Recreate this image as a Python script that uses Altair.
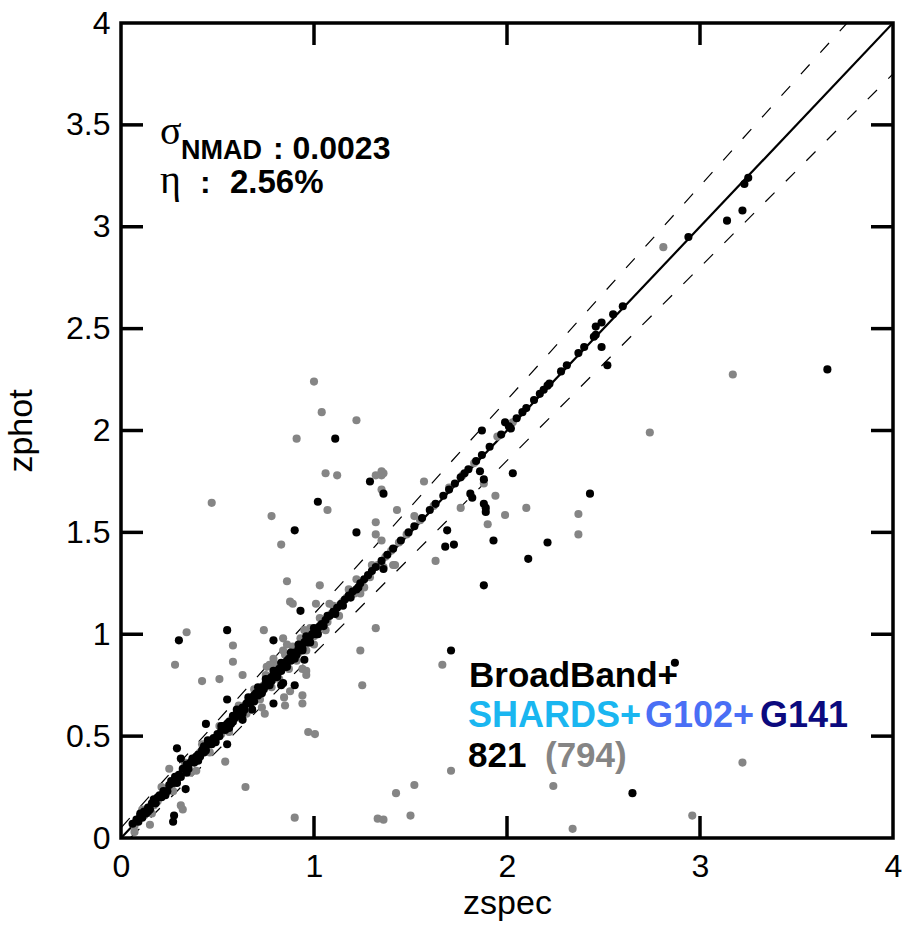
import altair as alt
import pandas as pd

# ---------------- data ----------------
black_outliers = [
    (1.11, 1.96), (1.29, 1.75), (1.36, 1.69), (1.02, 1.65), (0.90, 1.51), (1.22, 1.50),
    (0.93, 1.115), (0.55, 1.02), (0.30, 0.97), (0.79, 0.97), (0.55, 0.68), (0.95, 0.875),
    (0.84, 0.76), (0.90, 0.75), (0.83, 0.75), (0.79, 0.66), (0.68, 0.63), (0.63, 0.58),
    (0.44, 0.56), (0.55, 0.46), (0.29, 0.44), (0.31, 0.39), (0.335, 0.24), (0.275, 0.11),
    (0.27, 0.08), (1.71, 0.92), (2.87, 0.86), (2.65, 0.22), (3.66, 2.30), (3.23, 3.21),
    (3.22, 3.08), (3.14, 3.03), (2.94, 2.95), (2.49, 2.41), (2.52, 2.32), (2.43, 1.69),
    (2.21, 1.45), (2.11, 1.37), (2.03, 1.79), (1.88, 1.64), (1.89, 1.62), (1.89, 1.60),
    (1.93, 1.46), (1.88, 1.24), (1.86, 1.80), (1.88, 1.76), (1.81, 1.69), (1.82, 1.67),
    (1.87, 2.00), (1.69, 1.51), (1.68, 1.43), (1.725, 1.44), (1.36, 1.32), (1.99, 2.04),
]
black_line = [
    (0.06, 0.07), (0.08, 0.09), (0.09, 0.08), (0.10, 0.11), (0.11, 0.10), (0.12, 0.13),
    (0.13, 0.12), (0.14, 0.15), (0.15, 0.14), (0.16, 0.17), (0.18, 0.17), (0.19, 0.20),
    (0.20, 0.21), (0.21, 0.20), (0.22, 0.23), (0.24, 0.23), (0.25, 0.26), (0.27, 0.27),
    (0.28, 0.30), (0.30, 0.31), (0.31, 0.30), (0.33, 0.34), (0.34, 0.36), (0.35, 0.34),
    (0.36, 0.37), (0.37, 0.38), (0.38, 0.37), (0.39, 0.40), (0.40, 0.41), (0.41, 0.40),
    (0.42, 0.43), (0.43, 0.45), (0.44, 0.43), (0.45, 0.46), (0.46, 0.47), (0.47, 0.46),
    (0.48, 0.49), (0.50, 0.51), (0.51, 0.50), (0.52, 0.53), (0.53, 0.55), (0.54, 0.53),
    (0.55, 0.56), (0.56, 0.57), (0.57, 0.56), (0.58, 0.60), (0.59, 0.59), (0.60, 0.61),
    (0.61, 0.60), (0.62, 0.63), (0.63, 0.64), (0.64, 0.63), (0.65, 0.66), (0.66, 0.67),
    (0.67, 0.66), (0.68, 0.69), (0.69, 0.70), (0.70, 0.71), (0.71, 0.70), (0.72, 0.73),
    (0.73, 0.74), (0.74, 0.73), (0.75, 0.76), (0.76, 0.77), (0.76, 0.75), (0.77, 0.78),
    (0.78, 0.79), (0.78, 0.77), (0.79, 0.80), (0.80, 0.81), (0.80, 0.79), (0.81, 0.82),
    (0.82, 0.83), (0.83, 0.82), (0.84, 0.85), (0.85, 0.86), (0.85, 0.84), (0.86, 0.87),
    (0.87, 0.88), (0.88, 0.87), (0.89, 0.90), (0.90, 0.91), (0.91, 0.90), (0.92, 0.93),
    (0.93, 0.94), (0.94, 0.93), (0.95, 0.96), (0.96, 0.97), (0.97, 0.96), (0.98, 0.99),
    (0.99, 1.00), (1.00, 1.01), (1.01, 1.00), (1.02, 1.03), (1.03, 1.04), (1.04, 1.05),
    (1.06, 1.07), (1.08, 1.09), (1.10, 1.11), (1.12, 1.13), (1.14, 1.15), (1.16, 1.17),
    (1.18, 1.19), (1.20, 1.21), (1.22, 1.22), (1.24, 1.25), (1.26, 1.27), (1.28, 1.29),
    (1.30, 1.31), (1.32, 1.33), (1.35, 1.36), (1.38, 1.39), (1.41, 1.42), (1.45, 1.46),
    (1.49, 1.50), (1.52, 1.53), (1.56, 1.57), (1.60, 1.61), (1.63, 1.64), (1.67, 1.68),
    (1.70, 1.71), (1.73, 1.74), (1.76, 1.77), (1.78, 1.79), (1.80, 1.81), (1.84, 1.85),
    (1.87, 1.88), (1.91, 1.92), (1.97, 1.98), (2.01, 2.02), (2.02, 2.01), (2.05, 2.06),
    (2.08, 2.09), (2.10, 2.11), (2.14, 2.15), (2.17, 2.18), (2.19, 2.20), (2.21, 2.22),
    (2.22, 2.23), (2.28, 2.29), (2.31, 2.32), (2.37, 2.38), (2.40, 2.41), (2.45, 2.46),
    (2.46, 2.47), (2.46, 2.51), (2.49, 2.53), (2.55, 2.57), (2.60, 2.61), (3.25, 3.24),
]
black_band = [
    (0.10, 0.12), (0.14, 0.13), (0.17, 0.19), (0.23, 0.21), (0.26, 0.28), (0.29, 0.27),
    (0.32, 0.34), (0.34, 0.32), (0.37, 0.39), (0.40, 0.38), (0.43, 0.42), (0.45, 0.48),
    (0.49, 0.47), (0.52, 0.55), (0.56, 0.54), (0.58, 0.57), (0.60, 0.63), (0.63, 0.61),
    (0.66, 0.69), (0.69, 0.67), (0.71, 0.74), (0.73, 0.71), (0.75, 0.78), (0.77, 0.75),
    (0.79, 0.82), (0.81, 0.79), (0.83, 0.86), (0.86, 0.84), (0.88, 0.91), (0.90, 0.88),
    (0.92, 0.95), (0.94, 0.92), (0.96, 0.99), (0.98, 0.96), (1.00, 1.03), (1.02, 1.00),
    (1.05, 1.04), (1.07, 1.09), (1.11, 1.10), (1.15, 1.14), (1.19, 1.18), (1.23, 1.23),
]
gray_outliers = [
    (1.00, 2.24), (1.04, 2.09), (1.22, 2.05), (0.91, 1.96), (1.06, 1.79), (1.12, 1.78),
    (1.32, 1.78), (1.35, 1.80), (1.35, 1.78), (1.35, 1.71), (1.07, 1.61), (0.47, 1.645),
    (0.78, 1.58), (0.83, 1.44), (1.32, 1.55), (1.32, 1.49), (1.35, 1.46), (1.43, 1.61),
    (1.41, 1.34), (0.86, 1.26), (1.03, 1.24), (1.22, 1.27), (0.876, 1.16), (0.89, 1.15),
    (1.01, 1.15), (1.08, 1.15), (1.32, 1.03), (0.34, 1.01), (0.74, 1.02), (0.84, 0.98),
    (0.58, 0.945), (0.28, 0.85), (0.58, 0.865), (1.24, 0.92), (1.25, 0.75), (0.42, 0.77),
    (0.51, 0.78), (0.63, 0.80), (0.94, 0.83), (0.96, 0.82), (0.96, 0.80), (0.845, 0.69),
    (0.85, 0.65), (0.876, 0.72), (0.94, 0.70), (0.94, 0.66), (0.73, 0.64), (0.745, 0.61),
    (0.97, 0.52), (1.005, 0.51), (0.54, 0.375), (0.39, 0.33), (0.25, 0.34), (0.645, 0.25),
    (0.31, 0.16), (0.32, 0.14), (0.15, 0.065), (0.90, 0.10), (0.07, 0.03), (1.33, 0.095),
    (1.665, 0.85), (1.71, 0.33), (1.52, 0.26), (1.425, 0.22), (1.36, 0.09), (1.50, 0.11),
    (2.24, 0.255), (2.34, 0.045), (2.96, 0.11), (3.22, 0.37), (2.74, 1.99), (3.17, 2.275),
    (2.81, 2.90), (2.37, 1.59), (2.37, 1.49), (2.10, 1.62), (1.94, 1.68), (1.99, 1.585),
    (1.90, 1.54), (1.88, 1.74), (1.63, 1.36), (1.42, 1.34), (1.76, 1.62), (1.57, 1.75),
    (1.52, 1.58), (1.36, 1.79), (1.26, 1.23), (0.755, 0.84), (0.77, 0.85),
]
gray_line = [
    (0.07, 0.06), (0.12, 0.11), (0.17, 0.16), (0.19, 0.18), (0.23, 0.24), (0.26, 0.25),
    (0.29, 0.28), (0.32, 0.33), (0.35, 0.36), (0.38, 0.39), (0.41, 0.42), (0.44, 0.45),
    (0.47, 0.48), (0.49, 0.48), (0.52, 0.51), (0.55, 0.54), (0.57, 0.58), (0.60, 0.59),
    (0.62, 0.61), (0.64, 0.65), (0.67, 0.68), (0.70, 0.69), (0.72, 0.71), (0.74, 0.75),
    (0.77, 0.76), (0.79, 0.78), (0.81, 0.80), (0.83, 0.84), (0.86, 0.85), (0.88, 0.89),
    (0.90, 0.89), (0.92, 0.91), (0.95, 0.94), (0.97, 0.98), (1.00, 0.99), (1.02, 1.01),
    (1.05, 1.06), (1.07, 1.06), (1.09, 1.10), (1.11, 1.12), (1.13, 1.14), (1.15, 1.16),
    (1.17, 1.18), (1.21, 1.20), (1.25, 1.24), (1.29, 1.28), (1.33, 1.34), (1.37, 1.38),
    (1.40, 1.41), (1.44, 1.45), (1.48, 1.49), (1.55, 1.56), (1.62, 1.63), (1.70, 1.72),
    (1.77, 1.78), (1.83, 1.84), (1.95, 1.97), (2.03, 2.04),
]
gray_band = [
    (0.11, 0.14), (0.16, 0.12), (0.21, 0.25), (0.27, 0.23), (0.33, 0.37), (0.36, 0.32),
    (0.42, 0.46), (0.46, 0.42), (0.51, 0.55), (0.56, 0.52), (0.61, 0.65), (0.65, 0.61),
    (0.69, 0.73), (0.72, 0.68), (0.75, 0.80), (0.78, 0.74), (0.80, 0.85), (0.82, 0.78),
    (0.85, 0.90), (0.87, 0.83), (0.89, 0.94), (0.91, 0.87), (0.93, 0.98), (0.96, 0.92),
    (0.98, 1.03), (1.00, 0.95), (1.03, 1.08), (1.06, 1.02), (1.10, 1.14), (1.13, 1.09),
    (1.18, 1.22), (1.24, 1.20), (1.30, 1.34), (1.36, 1.33), (0.84, 0.92), (0.86, 0.95),
    (0.95, 1.02), (0.79, 0.88),
]

x_tick_values = [0, 1, 2, 3, 4]
y_tick_values = [0, 0.5, 1, 1.5, 2, 2.5, 3, 3.5, 4]
inner_x_ticks = [1, 2, 3]
inner_y_ticks = [0.5, 1, 1.5, 2, 2.5, 3, 3.5]

one_to_one = [(0, 0), (4, 4)]
upper_band = [(0, 0.05), (3.7619, 4.0)]
lower_band = [(0.0476, 0.0), (4.0, 3.75)]

FONT = "Liberation Sans"
W, H = 772, 815

def frame(pairs):
    return pd.DataFrame(pairs, columns=["zspec", "zphot"])

xs = alt.Scale(domain=[0, 4], nice=False, zero=False)
ys = alt.Scale(domain=[0, 4], nice=False, zero=False)

x_axis = alt.Axis(values=x_tick_values, format="~g", ticks=False, tickSize=0, domain=False,
                  grid=False, labelFontSize=32, labelFont=FONT, labelPadding=13,
                  labelFlush=False, labelColor="black", title="zspec", titleFont=FONT,
                  titleFontSize=34, titleFontWeight="normal", titleColor="black", titlePadding=4)
y_axis = alt.Axis(values=y_tick_values, format="~g", ticks=False, tickSize=0, domain=False,
                  grid=False, labelFontSize=32, labelFont=FONT, labelPadding=11,
                  labelFlush=False, labelColor="black", title="zphot", titleFont=FONT,
                  titleFontSize=34, titleFontWeight="normal", titleColor="black", titlePadding=27)

def xenc():
    return alt.X("zspec:Q", scale=xs, axis=x_axis)

def yenc():
    return alt.Y("zphot:Q", scale=ys, axis=y_axis)

base_line = alt.Chart(frame(one_to_one)).mark_line(color="black", strokeWidth=2.2, clip=True).encode(
    x=xenc(), y=yenc())
up_line = alt.Chart(frame(upper_band)).mark_line(color="black", strokeWidth=1.2, strokeDash=[13, 16], clip=True).encode(
    x=xenc(), y=yenc())
lo_line = alt.Chart(frame(lower_band)).mark_line(color="black", strokeWidth=1.2, strokeDash=[13, 16], clip=True).encode(
    x=xenc(), y=yenc())

gray_pts = alt.Chart(frame(gray_line + gray_band + gray_outliers)).mark_circle(
    size=66, color="#858585", opacity=1, clip=True).encode(x=xenc(), y=yenc())
black_pts = alt.Chart(frame(black_line + black_band + black_outliers)).mark_circle(
    size=66, color="black", opacity=1, clip=True).encode(x=xenc(), y=yenc())

TL = 22
tick_w = 3.5
yt = pd.DataFrame({"zphot": inner_y_ticks})
xt = pd.DataFrame({"zspec": inner_x_ticks})
left_ticks = alt.Chart(yt).mark_rule(color="black", strokeWidth=tick_w).encode(
    y=yenc(), x=alt.value(0), x2=alt.value(TL))
right_ticks = alt.Chart(yt).mark_rule(color="black", strokeWidth=tick_w).encode(
    y=yenc(), x=alt.value(W - TL), x2=alt.value(W))
bottom_ticks = alt.Chart(xt).mark_rule(color="black", strokeWidth=tick_w).encode(
    x=xenc(), y=alt.value(H - TL), y2=alt.value(H))
top_ticks = alt.Chart(xt).mark_rule(color="black", strokeWidth=tick_w).encode(
    x=xenc(), y=alt.value(0), y2=alt.value(TL))

def label(txt, px, py, size, color="black", weight="bold", font=FONT):
    return alt.Chart(pd.DataFrame({"t": [txt]})).mark_text(
        align="left", baseline="alphabetic", fontSize=size, fontWeight=weight,
        font=font, color=color).encode(text="t:N", x=alt.value(px), y=alt.value(py))

texts = [
    label("σ", 39, 121, 40, weight="normal", font="Liberation Serif"),
    label("NMAD", 60, 136, 27),
    label(": 0.0023", 152, 136, 32),
    label("η", 39, 170, 40, weight="normal", font="Liberation Serif"),
    label(":", 79, 170, 32),
    label("2.56%", 109, 170, 33),
    label("BroadBand+", 348, 664, 35),
    label("SHARDS+", 347, 704, 36, color="#1ab6f0"),
    label("G102+", 524, 704, 36, color="#4a6ff5"),
    label("G141", 639, 704, 36, color="#0b0a7e"),
    label("821", 347, 744, 35),
    label("(794)", 424, 744, 35, color="#858585"),
]

chart = alt.layer(
    base_line, up_line, lo_line, gray_pts, black_pts,
    left_ticks, right_ticks, bottom_ticks, top_ticks, *texts
).properties(
    width=W, height=H,
    padding={"left": 121, "top": 23, "right": 16, "bottom": 89},
    autosize=alt.AutoSizeParams(type="none"),
    background="white",
).configure_view(stroke="black", strokeWidth=3.5)

chart.save("out.html", embed_options={"renderer": "svg", "actions": False})
